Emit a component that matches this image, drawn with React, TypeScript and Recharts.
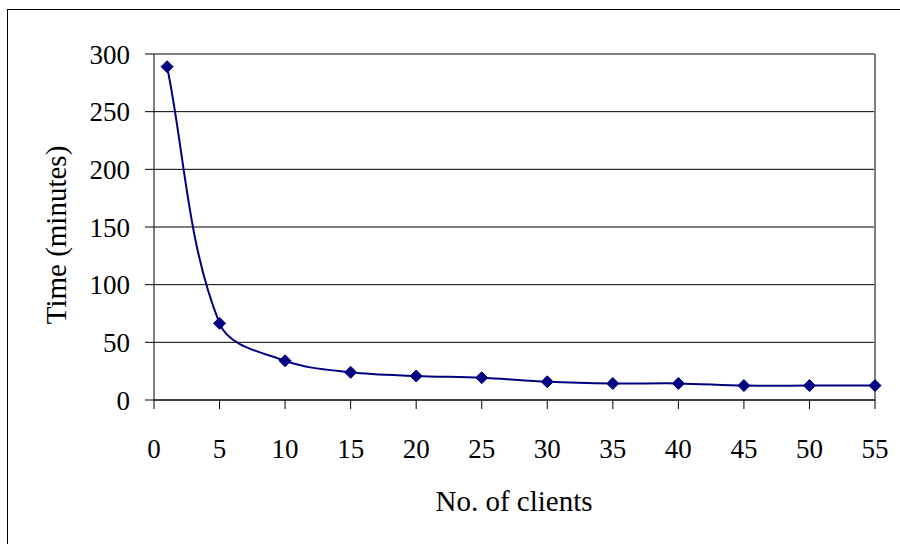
import { LineChart, Line, XAxis, YAxis, CartesianGrid, ReferenceLine, Label } from 'recharts'

const clients = [1, 5, 10, 15, 20, 25, 30, 35, 40, 45, 50, 55]
const minutes = [289, 66.5, 34, 24, 20.8, 19.3, 15.8, 14.3, 14.4, 12.5, 12.5, 12.5]
const xTicks = [0, 5, 10, 15, 20, 25, 30, 35, 40, 45, 50, 55]
const yTicks = [0, 50, 100, 150, 200, 250, 300]

const data = clients.map((c, i) => ({ clients: c, time: minutes[i] }))

const FONT = '"Liberation Serif", "Times New Roman", serif'
const NAVY = '#000080'

// spreadsheet-style smoothing: tangent follows the neighbours, handle length = chord / 3
function smoothCurve(context: any) {
  let pts: number[][] = []
  const unit = (a: number[], b: number[]) => {
    const dx = b[0] - a[0]
    const dy = b[1] - a[1]
    const len = Math.hypot(dx, dy) || 1
    return [dx / len, dy / len]
  }
  return {
    areaStart() {},
    areaEnd() {},
    lineStart() { pts = [] },
    point(x: number, y: number) { pts.push([+x, +y]) },
    lineEnd() {
      const n = pts.length
      if (!n) return
      context.moveTo(pts[0][0], pts[0][1])
      const dirs = pts.map((_, i) => unit(pts[Math.max(i - 1, 0)], pts[Math.min(i + 1, n - 1)]))
      for (let i = 0; i < n - 1; i++) {
        const a = pts[i]
        const b = pts[i + 1]
        const h = Math.hypot(b[0] - a[0], b[1] - a[1]) / 3
        context.bezierCurveTo(
          a[0] + dirs[i][0] * h, a[1] + dirs[i][1] * h,
          b[0] - dirs[i + 1][0] * h, b[1] - dirs[i + 1][1] * h,
          b[0], b[1],
        )
      }
    },
  }
}

function Diamond({ cx, cy }: any) {
  if (cx == null || cy == null) return null
  const r = 6
  return (
    <polygon
      points={`${cx},${cy - r} ${cx + r},${cy} ${cx},${cy + r} ${cx - r},${cy}`}
      fill={NAVY}
      stroke={NAVY}
      strokeWidth={1}
    />
  )
}

export default function App() {
  return (
    <div style={{ position: 'absolute', left: 0, top: 0, width: 900, height: 544, overflow: 'hidden', background: '#fff' }}>
      <div style={{ position: 'absolute', left: 7, top: 9, width: 1000, height: 1000, borderLeft: '1px solid #000', borderTop: '1px solid #000' }} />
      <div style={{ position: 'absolute', left: 0, top: 0 }}>
        <LineChart width={900} height={544} data={data} margin={{ top: 54, right: 25, left: 0, bottom: 0 }}>
          <CartesianGrid vertical={false} stroke="#000" />
          <ReferenceLine x={55} stroke="#808080" strokeWidth={2} />
          <XAxis
            dataKey="clients"
            type="number"
            domain={[0, 55]}
            ticks={xTicks}
            height={144}
            tickSize={9}
            tickMargin={30}
            axisLine={{ stroke: '#000' }}
            tickLine={{ stroke: '#000' }}
            tick={{ fontSize: 27, fill: '#000', fontFamily: FONT }}
            interval={0}
          >
            <Label
              content={() => (
                <text x={514} y={511} textAnchor="middle" fontSize={29} fontFamily={FONT} fill="#000">
                  No. of clients
                </text>
              )}
            />
          </XAxis>
          <YAxis
            type="number"
            domain={[0, 300]}
            ticks={yTicks}
            width={154}
            tickSize={9}
            tickMargin={15}
            axisLine={{ stroke: '#000' }}
            tickLine={{ stroke: '#000' }}
            tick={{ fontSize: 27, fill: '#000', fontFamily: FONT }}
            interval={0}
          >
            <Label
              content={() => (
                <text
                  x={56}
                  y={235}
                  transform="rotate(-90 56 235)"
                  textAnchor="middle"
                  dominantBaseline="central"
                  fontSize={29}
                  fontFamily={FONT}
                  fill="#000"
                >
                  Time (minutes)
                </text>
              )}
            />
          </YAxis>
          <Line
            dataKey="time"
            type={smoothCurve as any}
            stroke={NAVY}
            strokeWidth={2}
            dot={<Diamond />}
            activeDot={false}
            isAnimationActive={false}
          />
        </LineChart>
      </div>
    </div>
  )
}
